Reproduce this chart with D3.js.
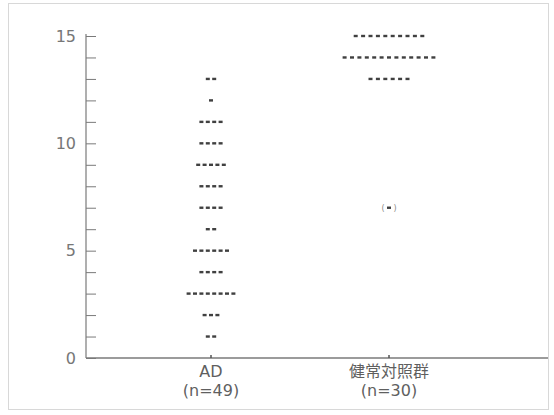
<!DOCTYPE html>
<html>
<head>
<meta charset="utf-8">
<script src="https://cdn.jsdelivr.net/npm/d3@7"></script>
<style>
  html, body { margin: 0; padding: 0; background: #fff; }
  svg { display: block; }
</style>
</head>
<body>
<svg id="chart" width="554" height="415"></svg>
<script>
// Group labels
const groups = ["AD", "健常対照群"];
const groupCounts = ["(n=49)", "(n=30)"];

// Score values and how many subjects share each score
const adScores = [13, 12, 11, 10, 9, 8, 7, 6, 5, 4, 3, 2, 1];
const adCounts = [2, 1, 4, 4, 5, 4, 4, 2, 6, 4, 8, 3, 2];
const ctrlScores = [15, 14, 13, 7];
const ctrlCounts = [10, 13, 6, 1];
// Control subject shown in parentheses
const ctrlBracketed = [7];

const yTickLabels = [0, 5, 10, 15];

const svg = d3.select("#chart");

// light frame around the figure
svg.append("rect")
  .attr("x", 8.5).attr("y", 3.5)
  .attr("width", 540).attr("height", 406)
  .attr("fill", "none").attr("stroke", "#d8d8d8").attr("stroke-width", 1);

const y = d3.scaleLinear().domain([0, 15]).range([358, 36]);
const x = d3.scalePoint().domain(groups).range([211, 389]);
const x0 = 86, x1 = 548;

const axisColor = "#7a7a7a";

// y axis: minor ticks every unit, labels every 5
const yAxis = d3.axisRight(y)
  .tickValues(d3.range(0, 16))
  .tickSize(10)
  .tickFormat("");
const gy = svg.append("g").attr("transform", `translate(${x0},0)`).call(yAxis);
gy.select(".domain").attr("stroke", axisColor).attr("stroke-width", 1.2)
  .attr("d", `M0,${y(15) - 2}V${y(0)}`);
gy.selectAll(".tick line").attr("stroke", axisColor).attr("stroke-width", 1);

svg.append("g").selectAll("text")
  .data(yTickLabels)
  .join("text")
  .attr("x", 76)
  .attr("y", d => y(d))
  .attr("dy", "0.36em")
  .attr("text-anchor", "end")
  .attr("font-family", "'DejaVu Sans', sans-serif")
  .attr("font-size", 16)
  .attr("fill", "#777")
  .text(d => d);

// x axis baseline with small category ticks
svg.append("line")
  .attr("x1", x0).attr("x2", x1)
  .attr("y1", y(0)).attr("y2", y(0))
  .attr("stroke", axisColor).attr("stroke-width", 1.4);
svg.append("g").selectAll("line")
  .data(groups)
  .join("line")
  .attr("x1", d => x(d)).attr("x2", d => x(d))
  .attr("y1", y(0)).attr("y2", y(0) - 3)
  .attr("stroke", "#555").attr("stroke-width", 1.5);

// category labels
const labelG = svg.append("g")
  .attr("font-family", "'DejaVu Sans', 'Noto Sans CJK JP', sans-serif")
  .attr("font-size", 16)
  .attr("fill", "#5f5f5f")
  .attr("text-anchor", "middle");
labelG.selectAll("text.name")
  .data(groups).join("text").attr("class", "name")
  .attr("x", d => x(d)).attr("y", 377).text(d => d);
labelG.selectAll("text.count")
  .data(groups).join("text").attr("class", "count")
  .attr("x", (d, i) => x(groups[i])).attr("y", 396).text((d, i) => groupCounts[i]);

// expand score/count pairs into individual subjects laid out side by side
function expand(scores, counts, group, spacing) {
  const pts = [];
  scores.forEach((s, i) => {
    const n = counts[i];
    for (let k = 0; k < n; k++) {
      pts.push({ group, score: s, offset: (k - (n - 1) / 2) * spacing });
    }
  });
  return pts;
}
const pts = expand(adScores, adCounts, groups[0], 6.4)
  .concat(expand(ctrlScores, ctrlCounts, groups[1], 7.4));

svg.append("g").selectAll("rect")
  .data(pts)
  .join("rect")
  .attr("x", d => x(d.group) + d.offset - 2)
  .attr("y", d => y(d.score) - 1.2)
  .attr("width", 4)
  .attr("height", 2.4)
  .attr("fill", "#404040");

// parentheses around the bracketed control subject
const br = svg.append("g")
  .attr("font-family", "'DejaVu Sans', sans-serif")
  .attr("font-size", 8)
  .attr("fill", "#888")
  .attr("text-anchor", "middle");
ctrlBracketed.forEach(s => {
  br.append("text").attr("x", x(groups[1]) - 6).attr("y", y(s)).attr("dy", "0.35em").text("(");
  br.append("text").attr("x", x(groups[1]) + 6).attr("y", y(s)).attr("dy", "0.35em").text(")");
});
</script>
</body>
</html>
